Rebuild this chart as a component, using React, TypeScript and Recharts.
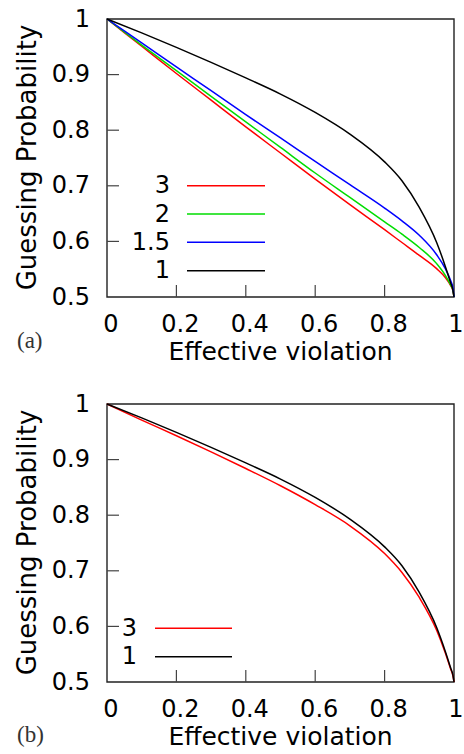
import { Legend, Line, LineChart, ReferenceArea, XAxis, YAxis } from 'recharts'

// effective violation (x) and guessing probability (y)
const violation = [0, 0.1, 0.2, 0.3, 0.4, 0.5, 0.6, 0.7, 0.8, 0.85, 0.9, 0.95, 0.975, 0.99, 0.997, 1]

// panel (a)
const probA3 = [1, 0.951, 0.902, 0.854, 0.806, 0.759, 0.712, 0.666, 0.621, 0.598, 0.575, 0.551, 0.535, 0.521, 0.511, 0.5]
const probA2 = [1, 0.953, 0.907, 0.861, 0.815, 0.769, 0.723, 0.679, 0.635, 0.613, 0.589, 0.56, 0.539, 0.522, 0.512, 0.5]
const probA15 = [1, 0.957, 0.914, 0.871, 0.828, 0.786, 0.744, 0.702, 0.66, 0.637, 0.611, 0.576, 0.551, 0.53, 0.516, 0.5]
const probA1 = [1, 0.975, 0.949, 0.922, 0.894, 0.865, 0.832, 0.793, 0.743, 0.709, 0.661, 0.598, 0.555, 0.526, 0.512, 0.5]

// panel (b)
const probB3 = [1, 0.971, 0.943, 0.914, 0.884, 0.853, 0.819, 0.781, 0.731, 0.697, 0.652, 0.593, 0.552, 0.524, 0.511, 0.5]
const probB1 = [1, 0.975, 0.949, 0.922, 0.894, 0.865, 0.832, 0.793, 0.743, 0.709, 0.661, 0.598, 0.555, 0.526, 0.512, 0.5]

const xTicks = [0, 0.2, 0.4, 0.6, 0.8, 1]
const yTicks = [0.5, 0.6, 0.7, 0.8, 0.9, 1]
const keysA = ['3', '2', '1.5', '1']
const keysB = ['3', '1']

const W = 464
const H = 369
const FONT = '"DejaVu Sans", Verdana, sans-serif'
const colors: Record<string, string> = { '3': '#ff0000', '2': '#00dd00', '1.5': '#0000ff', '1': '#000000' }

const dataA = violation.map((x, i) => ({ x, '3': probA3[i], '2': probA2[i], '1.5': probA15[i], '1': probA1[i] }))
const dataB = violation.map((x, i) => ({ x, '3': probB3[i], '1': probB1[i] }))

function XTick({ x, y, payload }: any) {
  const v = payload.value
  return (
    <g>
      {v > 0 && v < 1 && <line x1={x} x2={x} y1={y} y2={y - 12} stroke="#444" strokeWidth={1.2} />}
      <text x={Math.min(x + 4, 456)} y={y + 35} textAnchor="middle" fontSize={24} fontFamily={FONT} fill="#000">
        {String(v)}
      </text>
    </g>
  )
}

function YTick({ x, y, payload }: any) {
  const v = payload.value
  return (
    <g>
      {v > 0.5 && v < 1 && <line x1={x} x2={x + 12} y1={y} y2={y} stroke="#444" strokeWidth={1.2} />}
      <text x={90} y={y + 7.5} textAnchor="end" fontSize={24} fontFamily={FONT} fill="#000">
        {String(v)}
      </text>
    </g>
  )
}

type KeyLayout = { labelX: number; x1: number; x2: number; rows: number[] }

function Key({ payload, keys, layout }: any) {
  const { labelX, x1, x2, rows } = layout as KeyLayout
  return (
    <svg width={W} height={H} style={{ display: 'block' }}>
      {keys.map((k: string, i: number) => {
        const item = (payload || []).find((p: any) => p.value === k)
        const y = rows[i]
        return (
          <g key={k}>
            <text x={labelX} y={y + 7.5} textAnchor="end" fontSize={24} fontFamily={FONT} fill="#000">
              {k}
            </text>
            <line x1={x1} x2={x2} y1={y} y2={y} stroke={item ? item.color : colors[k]} strokeWidth={1.5} />
          </g>
        )
      })}
    </svg>
  )
}

function Panel({ data, keys, layout, tag, tagY, top }: any) {
  return (
    <div style={{ position: 'absolute', left: 0, top, width: W, height: H }}>
      <LineChart width={W} height={H} data={data} margin={{ top: 19, right: 10, bottom: 0, left: 0 }}>
        <XAxis
          dataKey="x"
          type="number"
          domain={[0, 1]}
          ticks={xTicks}
          height={72}
          axisLine={false}
          tickLine={false}
          tickSize={0}
          tickMargin={0}
          tick={<XTick />}
          label={() => (
            <g>
              <text x={280.5} y={360} textAnchor="middle" fontSize={25} fontFamily={FONT} fill="#000">
                Effective violation
              </text>
              <text x={17} y={tagY} fontSize={23} fontFamily='"Liberation Serif", serif' fill="#333">
                {tag}
              </text>
            </g>
          )}
        />
        <YAxis
          type="number"
          domain={[0.5, 1]}
          ticks={yTicks}
          width={107}
          axisLine={false}
          tickLine={false}
          tickSize={0}
          tickMargin={0}
          tick={<YTick />}
          label={() => (
            <text
              x={36}
              y={157.5}
              transform="rotate(-90, 36, 157.5)"
              textAnchor="middle"
              fontSize={26}
              fontFamily={FONT}
              fill="#000"
            >
              Guessing Probability
            </text>
          )}
        />
        <ReferenceArea x1={0} x2={1} y1={0.5} y2={1} fill="none" stroke="#222" strokeWidth={1.4} />
        {keys.map((k: string) => (
          <Line
            key={k}
            dataKey={k}
            name={k}
            type="monotone"
            stroke={colors[k]}
            strokeWidth={1.5}
            dot={false}
            activeDot={false}
            isAnimationActive={false}
          />
        ))}
        <Legend
          layout="vertical"
          align="center"
          verticalAlign="middle"
          wrapperStyle={{ left: 0, top: 0, width: W, height: H, pointerEvents: 'none' }}
          content={(props: any) => <Key payload={props.payload} keys={keys} layout={layout} />}
        />
      </LineChart>
    </div>
  )
}

export default function App() {
  return (
    <div style={{ position: 'absolute', left: 0, top: 0, width: W, height: 754, background: '#fff' }}>
      <Panel
        data={dataA}
        keys={keysA}
        layout={{ labelX: 170, x1: 187, x2: 265, rows: [185.7, 214, 242.3, 270.7] }}
        tag="(a)"
        tagY={348}
        top={0}
      />
      <Panel
        data={dataB}
        keys={keysB}
        layout={{ labelX: 137, x1: 155, x2: 232, rows: [243.3, 271.7] }}
        tag="(b)"
        tagY={357}
        top={385}
      />
    </div>
  )
}
